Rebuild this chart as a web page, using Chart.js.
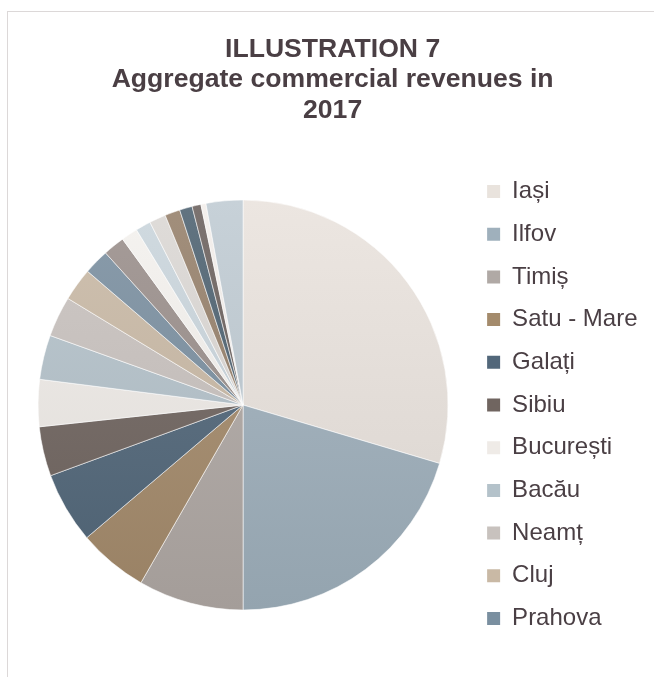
<!DOCTYPE html>
<html>
<head>
<meta charset="utf-8">
<script src="https://cdn.jsdelivr.net/npm/chart.js@4/dist/chart.umd.min.js"></script>
<style>
  html, body { margin: 0; padding: 0; background: #ffffff; overflow: hidden; }
  #card { position: absolute; left: 7px; top: 11px; width: 700px; height: 700px; border: 1px solid #dcd8d8; box-sizing: border-box; }
  #wrap { position: absolute; left: 8px; top: 12px; width: 646px; height: 665px; }
</style>
</head>
<body>
<div id="card"></div>
<div id="wrap"><canvas id="c"></canvas></div>
<script>
const titleLines = ['ILLUSTRATION 7', 'Aggregate commercial revenues in', '2017'];
const categories = ['Iași', 'Ilfov', 'Timiș', 'Satu - Mare', 'Galați', 'Sibiu', 'București', 'Bacău', 'Neamț', 'Cluj', 'Prahova',
  'Județ 12', 'Județ 13', 'Județ 14', 'Județ 15', 'Județ 16', 'Județ 17', 'Județ 18', 'Județ 19', 'Județ 20'];
const shares = [29.6, 20.4, 8.3, 5.5, 5.6, 3.9, 3.7, 3.5, 3.2, 2.6, 2.0, 1.7, 1.3, 1.2, 1.3, 1.2, 1.0, 0.7, 0.4, 2.9];
const sliceColors = ['#e9e3dd', '#9fb0bc', '#b0a9a5', '#a48b6c', '#52677a', '#706560', '#efebe7', '#b4c2ca', '#c8c2be', '#c9b9a5', '#7a8fa0',
  '#9a8f8b', '#f4f1ee', '#cad5dc', '#dbd7d4', '#95806a', '#4d6170', '#6a605d', '#f2eeea', '#bfcbd3'];
const legendCount = 11;

function shade(hex, f) {
  const n = parseInt(hex.slice(1), 16);
  let r = (n >> 16) & 255, g = (n >> 8) & 255, b = n & 255;
  const adj = v => f >= 0 ? Math.round(v + (255 - v) * f) : Math.round(v * (1 + f));
  return 'rgb(' + adj(r) + ',' + adj(g) + ',' + adj(b) + ')';
}

const ctx = document.getElementById('c');
new Chart(ctx, {
  type: 'pie',
  data: {
    labels: categories,
    datasets: [{
      data: shares,
      radius: 205,
      borderWidth: 1,
      borderColor: 'rgba(255,255,255,0.55)',
      backgroundColor: function(c) {
        const base = sliceColors[c.dataIndex];
        const chart = c.chart;
        const area = chart.chartArea;
        if (!area) return base;
        const cy = (area.top + area.bottom) / 2;
        const g = chart.ctx.createLinearGradient(0, cy - 205, 0, cy + 205);
        g.addColorStop(0, shade(base, 0.12));
        g.addColorStop(1, shade(base, -0.07));
        return g;
      }
    }]
  },
  options: {
    responsive: true,
    maintainAspectRatio: false,
    animation: false,
    layout: { padding: { left: 9.7, right: 6.5, top: 0, bottom: 17 } },
    plugins: {
      tooltip: { enabled: false },
      title: {
        display: true,
        text: titleLines,
        color: '#4a3f44',
        font: { family: '"Liberation Sans", Arial, sans-serif', size: 26.6, weight: 'bold', lineHeight: 1.15 },
        padding: { top: 22, bottom: 24.2 }
      },
      legend: {
        display: true,
        position: 'right',
        align: 'center',
        fullSize: false,
        labels: {
          color: '#4a3f44',
          font: { family: '"Liberation Sans", Arial, sans-serif', size: 24 },
          boxWidth: 13,
          boxHeight: 13,
          padding: 18.7,
          filter: (item) => item.index < legendCount,
          generateLabels: (chart) => {
            return chart.data.labels.map((l, i) => ({
              text: l,
              fillStyle: sliceColors[i],
              strokeStyle: sliceColors[i],
              fontColor: '#4a3f44',
              lineWidth: 0,
              hidden: false,
              index: i
            }));
          }
        }
      }
    }
  }
});
</script>
</body>
</html>
